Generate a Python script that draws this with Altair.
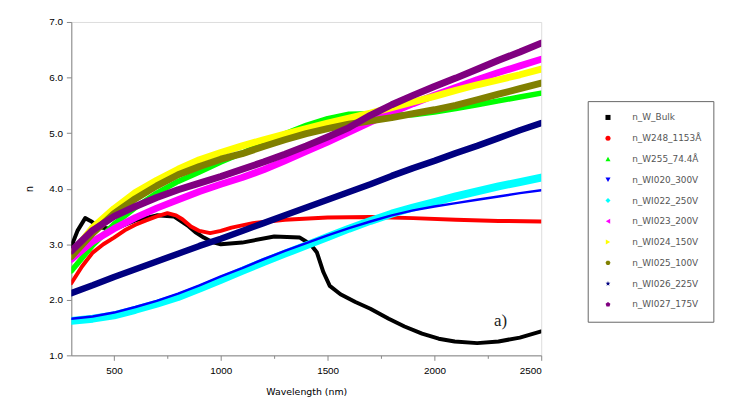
import altair as alt
import pandas as pd

# ---------------- data ----------------
names = ["n_W_Bulk", "n_W248_1153Å", "n_W255_74.4Å", "n_WI020_300V", "n_WI022_250V",
         "n_WI023_200V", "n_WI024_150V", "n_WI025_100V", "n_WI026_225V", "n_WI027_175V"]
colors = ["#000000", "#FF0000", "#00FF00", "#0000FF", "#00FFFF",
          "#FF00FF", "#FFFF00", "#808000", "#000080", "#800080"]
shapes = ["square", "circle", "triangle-up", "triangle-down", "diamond", "triangle-left",
          "triangle-right",
          "M-1,0L-0.5,-0.866L0.5,-0.866L1,0L0.5,0.866L-0.5,0.866Z",
          "M0,-1L0.235,-0.324L0.951,-0.309L0.38,0.124L0.588,0.809L0,0.4L-0.588,0.809L-0.38,0.124L-0.951,-0.309L-0.235,-0.324Z",
          "M0,-1L0.951,-0.309L0.588,0.809L-0.588,0.809L-0.951,-0.309Z"]

grid = [300, 400, 500, 600, 700, 800, 900, 1000, 1100, 1200, 1300, 1400, 1500,
        1600, 1700, 1800, 1900, 2000, 2100, 2200, 2300, 2400, 2500]

bulk_x = [300, 330, 365, 390, 420, 440, 500, 600, 700, 780, 850, 880, 920, 960, 1000, 1100, 1250,
          1370, 1420, 1450, 1480, 1510, 1560, 1630, 1700, 1786, 1860, 1942, 2020, 2095,
          2200, 2300, 2400, 2500]
bulk_y = [2.96, 3.25, 3.47, 3.42, 3.34, 3.3, 3.27, 3.43, 3.52, 3.5, 3.32, 3.22, 3.12, 3.04, 3.0, 3.03, 3.14,
          3.12, 3.0, 2.85, 2.5, 2.25, 2.1, 1.96, 1.84, 1.66, 1.52, 1.39, 1.3, 1.25,
          1.22, 1.25, 1.32, 1.43]

w248_x = [300, 350, 400, 450, 500, 550, 600, 650, 700, 750, 790, 820, 860, 900, 950, 1000,
          1050, 1150, 1300, 1500, 1700, 1900, 2100, 2300, 2500]
w248_y = [2.3, 2.6, 2.85, 3.0, 3.12, 3.25, 3.35, 3.43, 3.5, 3.56, 3.52, 3.45, 3.32, 3.24, 3.2, 3.24,
          3.3, 3.38, 3.44, 3.48, 3.49, 3.47, 3.44, 3.42, 3.41]

w255_y = [2.52, 2.98, 3.36, 3.66, 3.92, 4.13, 4.3, 4.48, 4.64, 4.82, 4.99, 5.14, 5.26,
          5.34, 5.35, 5.32, 5.33, 5.38, 5.44, 5.51, 5.58, 5.65, 5.72]
wi020_y = [1.66, 1.7, 1.77, 1.87, 1.98, 2.11, 2.26, 2.42, 2.57, 2.73, 2.88, 3.02, 3.16,
           3.29, 3.41, 3.52, 3.61, 3.68, 3.74, 3.8, 3.86, 3.92, 3.97]
wi022_y = [1.62, 1.66, 1.72, 1.82, 1.93, 2.05, 2.2, 2.36, 2.52, 2.68, 2.83, 2.98, 3.13,
           3.28, 3.42, 3.55, 3.66, 3.76, 3.86, 3.95, 4.04, 4.12, 4.2]
wi023_y = [2.73, 3.05, 3.28, 3.48, 3.65, 3.8, 3.95, 4.08, 4.2, 4.34, 4.5, 4.67, 4.84,
           5.02, 5.2, 5.37, 5.53, 5.68, 5.82, 5.96, 6.09, 6.21, 6.33]
wi024_y = [2.82, 3.3, 3.64, 3.93, 4.15, 4.35, 4.52, 4.65, 4.77, 4.88, 4.98, 5.08, 5.18,
           5.27, 5.36, 5.46, 5.56, 5.66, 5.77, 5.87, 5.96, 6.05, 6.15]
wi025_y = [2.78, 3.2, 3.55, 3.82, 4.05, 4.25, 4.4, 4.53, 4.63, 4.76, 4.88, 4.99, 5.08,
           5.16, 5.22, 5.28, 5.35, 5.42, 5.5, 5.6, 5.7, 5.8, 5.9]
wi026_y = [2.12, 2.26, 2.41, 2.55, 2.69, 2.83, 2.97, 3.1, 3.24, 3.38, 3.52, 3.66, 3.8,
           3.94, 4.08, 4.23, 4.37, 4.5, 4.64, 4.77, 4.91, 5.05, 5.18]
wi027_y = [2.88, 3.25, 3.5, 3.68, 3.84, 3.98, 4.1, 4.22, 4.35, 4.48, 4.62, 4.77, 4.93,
           5.1, 5.32, 5.51, 5.68, 5.84, 5.99, 6.15, 6.31, 6.46, 6.62]

series_x = [bulk_x, w248_x, grid, grid, grid, grid, grid, grid, grid, grid]
series_y = [bulk_y, w248_y, w255_y, wi020_y, wi022_y, wi023_y, wi024_y, wi025_y, wi026_y, wi027_y]
widths = [4, 4, 5.5, 2.5, 8, 7, 7, 7, 6.5, 7]
draw_order = [0, 1, 2, 4, 3, 5, 6, 7, 8, 9]

x_ticks = [500 + 250 * i for i in range(9)]
y_ticks = [1 + 0.25 * i for i in range(25)]

note_text = ["a)"]
note_x = [2310]
note_y = [1.62]

# ---------------- build table ----------------
rows = []
for n, xs, ys in zip(names, series_x, series_y):
    for xv, yv in zip(xs, ys):
        rows.append({"series": n, "wl": xv, "n": yv})
df = pd.DataFrame(rows)

FONT = "DejaVu Sans"
xscale = alt.Scale(domain=[300, 2500], nice=False, zero=False)
yscale = alt.Scale(domain=[1, 7], nice=False, zero=False)

xaxis = alt.Axis(values=x_ticks, title="Wavelength (nm)",
                 labelExpr="datum.value % 500 == 0 ? datum.value : ''",
                 tickSize={"expr": "datum.value % 500 == 0 ? 5 : 3"},
                 grid=False, labelPadding=5, titlePadding=12,
                 titleFontWeight=400, titleFont=FONT, titleFontSize=9.5)
yaxis = alt.Axis(values=y_ticks, title="n",
                 labelExpr="(datum.value * 2) % 1 == 0 ? format(datum.value, '.1f') : ''",
                 tickSize={"expr": "(datum.value * 2) % 1 == 0 ? 5 : 3"},
                 grid=False, labelPadding=4, titlePadding=14,
                 titleFontWeight=400, titleFont=FONT, titleFontSize=10)

layers = []
first = True
for i in draw_order:
    base = alt.Chart(df).transform_filter(alt.datum.series == names[i]).mark_line(
        color=colors[i], strokeWidth=widths[i], strokeJoin="round", strokeCap="round", clip=True
    )
    if first:
        enc = base.encode(x=alt.X("wl:Q", scale=xscale, axis=xaxis),
                          y=alt.Y("n:Q", scale=yscale, axis=yaxis))
        first = False
    else:
        enc = base.encode(x=alt.X("wl:Q", scale=xscale), y=alt.Y("n:Q", scale=yscale))
    layers.append(enc)

leg_df = pd.DataFrame({"series": names, "wl": [300] * len(names), "n": [-5] * len(names)})
legend_layer = alt.Chart(leg_df).mark_point(filled=True, clip=True, opacity=1).encode(
    x=alt.X("wl:Q", scale=xscale),
    y=alt.Y("n:Q", scale=yscale),
    color=alt.Color("series:N", scale=alt.Scale(domain=names, range=colors),
                    legend=alt.Legend(title=None, orient="none", legendX=522, legendY=80,
                                      symbolSize=26, labelFontSize=9, labelColor="#555",
                                      rowPadding=11, padding=12, strokeColor="#666",
                                      symbolOffset=4, labelOffset=20, symbolStrokeWidth=0,
                                      labelFont=FONT)),
    shape=alt.Shape("series:N", scale=alt.Scale(domain=names, range=shapes), legend=None),
)

note = alt.Chart(pd.DataFrame({"t": note_text, "wl": note_x, "n": note_y})).mark_text(
    font="Liberation Serif", fontSize=17, color="#222", align="center"
).encode(x=alt.X("wl:Q", scale=xscale), y=alt.Y("n:Q", scale=yscale), text="t:N")

chart = alt.layer(*layers, legend_layer, note).properties(
    width=475, height=337,
    autosize=alt.AutoSizeParams(type="none"),
    padding={"left": 64, "top": 12, "right": 207, "bottom": 44},
).configure_view(stroke=None).configure_axis(
    domainColor="#000", domainWidth=1.5, tickColor="#000", tickWidth=1,
    labelColor="#555", labelFontSize=8.5, labelFont=FONT,
    titleColor="#555", titleFontSize=9, titleFont=FONT, titleFontWeight=400,
).configure(background="white")

chart.save("out.html", embed_options={"renderer": "svg", "actions": False})
